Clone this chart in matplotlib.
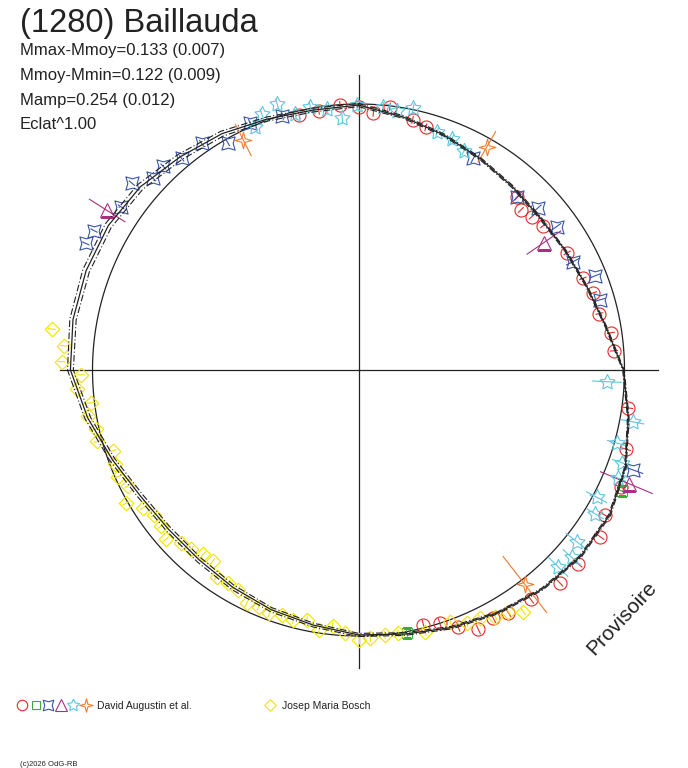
import numpy as np
import matplotlib
matplotlib.use("Agg")
import matplotlib.pyplot as plt
from matplotlib.path import Path
from matplotlib.transforms import Affine2D
from matplotlib.lines import Line2D

# rotational phase in degrees (0 at top, clockwise), relative flux (reference circle = 1)
curve_phase = list(range(0, 360, 10))
curve_flux = [0.996, 0.966, 0.940, 0.917, 0.900, 0.891, 0.898, 0.914, 0.944, 0.996,
              1.030, 1.068, 1.090, 1.090, 1.075, 1.053, 1.030, 1.008, 0.996, 0.974,
              0.959, 0.944, 0.932, 0.932, 0.947, 0.985, 1.034, 1.083, 1.090, 1.090,
              1.086, 1.071, 1.045, 1.026, 1.004, 0.992]
curve_sigma = [0.006, 0.005, 0.004, 0.004, 0.004, 0.004, 0.003, 0.003, 0.003, 0.003,
               0.003, 0.003, 0.004, 0.004, 0.004, 0.004, 0.005, 0.005, 0.006, 0.007,
               0.008, 0.009, 0.010, 0.010, 0.010, 0.010, 0.011, 0.011, 0.012, 0.013,
               0.013, 0.013, 0.012, 0.010, 0.008, 0.007]

red_phase = [346.9, 351.3, 356.0, 0.0, 3.3, 6.8, 12.2, 15.5, 42.6, 45.4, 48.5, 52.0,
             60.7, 67.8, 71.8, 76.8, 81.6, 85.7, 98.0, 106.5, 114.1, 120.5, 124.6,
             131.4, 136.6, 143.1, 148.3, 151.5, 155.2, 158.8, 162.2, 165.7]
red_flux = [0.984, 0.986, 0.999, 0.988, 0.969, 0.997, 0.962, 0.947, 0.882, 0.857, 0.870,
            0.882, 0.900, 0.911, 0.929, 0.930, 0.959, 0.963, 1.022, 1.048, 1.080, 1.075,
            1.103, 1.102, 1.100, 1.078, 1.072, 1.062, 1.074, 1.035, 1.000, 0.989]
red_err = [0.015] * 18 + [0.02] * 14

green_phase = [114.7, 169.6]
green_flux = [1.089, 1.004]
green_err = [0.015, 0.015]

blue_phase = [297.8, 294.9, 304.5, 309.5, 313.0, 316.2, 320.1, 325.3, 330.1, 336.3,
              343.3, 28.5, 42.5, 47.9, 54.1, 63.2, 68.3, 73.8, 110.0]
blue_flux = [1.124, 1.130, 1.083, 1.104, 1.056, 1.060, 1.037, 1.036, 0.986, 1.015,
             0.997, 0.905, 0.880, 0.907, 0.919, 0.904, 0.957, 0.945, 1.099]
blue_err = [0.015] * 11 + [0.02, 0.02, 0.02, 0.022, 0.03, 0.022, 0.022, 0.04]

purple_phase = [302.4, 55.5, 112.8]
purple_flux = [1.121, 0.846, 1.105]
purple_err = [0.083, 0.079, 0.12]

cyan_phase = [337.0, 339.3, 343.0, 346.1, 349.6, 353.2, 356.3, 359.7, 5.3, 8.4, 11.8,
              18.3, 22.0, 25.7, 92.7, 100.7, 105.8, 109.4, 112.6, 118.1, 121.3, 128.2,
              131.3, 134.6]
cyan_flux = [0.994, 1.029, 1.046, 0.992, 1.006, 0.987, 0.948, 0.996, 0.992, 0.985, 1.005,
             0.944, 0.935, 0.915, 0.934, 1.049, 1.009, 1.049, 1.058, 1.015, 1.041, 1.044,
             1.067, 1.054]
cyan_err = [0.02] * 14 + [0.056, 0.045, 0.038, 0.038, 0.03, 0.045, 0.038, 0.053, 0.045, 0.053]

orange_phase = [29.9, 333.4, 142.2]
orange_flux = [0.968, 0.967, 1.020]
orange_err = [0.068, 0.068, 0.135]

yellow_phase = [277.6, 274.7, 271.6, 269.0, 266.1, 263.0, 260.3, 257.3, 254.7, 251.8,
                248.9, 246.1, 243.3, 240.2, 237.4, 234.7, 231.7, 228.7, 225.8, 223.1,
                220.1, 217.3, 214.5, 211.4, 208.7, 205.6, 202.9, 200.1, 197.3, 194.6,
                191.7, 188.6, 185.8, 182.9, 180.0, 177.5, 174.3, 171.4, 165.7, 160.0,
                156.9, 153.9, 151.0, 148.2, 145.7]
yellow_flux = [1.163, 1.111, 1.116, 1.044, 1.060, 1.014, 1.030, 1.012, 1.018, 0.973,
               0.981, 0.990, 0.969, 1.008, 0.960, 0.942, 0.947, 0.964, 0.932, 0.923,
               0.905, 0.905, 0.942, 0.939, 0.942, 0.973, 0.966, 0.974, 0.965, 0.971,
               0.960, 0.988, 0.967, 0.991, 1.015, 1.009, 1.001, 1.001, 1.015, 1.007,
               1.035, 1.039, 1.060, 1.069, 1.100]
yellow_err = [0.015] * 45

observers = ["David Augustin et al.", "Josep Maria Bosch"]
stats = ["Mmax-Mmoy=0.133 (0.007)", "Mmoy-Mmin=0.122 (0.009)",
         "Mamp=0.254 (0.012)", "Eclat^1.00"]

W, H = 688, 768
fig = plt.figure(figsize=(W / 100, H / 100), dpi=100, facecolor="white")
plt.rcParams["font.family"] = ["Liberation Sans", "DejaVu Sans"]

cx, cy, scale, rmax = 358.5, 398, 266.0, 1.2
rad = scale * rmax
ax = fig.add_axes([(cx - rad) / W, (cy - rad) / H, 2 * rad / W, 2 * rad / H],
                  projection="polar")
ax.set_theta_zero_location("N")
ax.set_theta_direction(-1)
ax.set_rlim(0, rmax)
ax.axis("off")

ink = "#222222"
# cross
ax.plot([0, 0], [0, 1.109], color=ink, lw=0.9)
ax.plot([np.pi, np.pi], [0, 1.12], color=ink, lw=0.9)
ax.plot([np.pi / 2, np.pi / 2], [0, 1.126], color=ink, lw=0.9)
ax.plot([1.5 * np.pi, 1.5 * np.pi], [0, 1.122], color=ink, lw=0.9)
# reference circle
tc = np.linspace(0, 2 * np.pi, 721)
ax.plot(tc, np.ones_like(tc), color=ink, lw=0.9)

# fitted curve with +/- sigma
th = np.deg2rad(np.append(curve_phase, 360))
fl = np.append(curve_flux, curve_flux[0])
sg = np.append(curve_sigma, curve_sigma[0])
ax.plot(th, fl, color=ink, lw=0.9, zorder=3)
ax.plot(th, fl + sg, color=ink, lw=0.8, ls=(0, (6, 2, 1, 2)), zorder=3)
ax.plot(th, fl - sg, color=ink, lw=0.8, ls=(0, (6, 2, 1, 2)), zorder=3)

star4_diag = Path.unit_regular_star(4, 0.5).transformed(Affine2D().rotate_deg(45))
star4 = Path.unit_regular_star(4, 0.3)

series = [
    (red_phase, red_flux, red_err, "#e52a2a", "o", 9.4),
    (green_phase, green_flux, green_err, "#3caa3c", "s", 6.5),
    (blue_phase, blue_flux, blue_err, "#3a55a6", star4_diag, 9.5),
    (purple_phase, purple_flux, purple_err, "#a8307e", "^", 10),
    (cyan_phase, cyan_flux, cyan_err, "#5ec6de", (5, 1, 0), 11.5),
    (orange_phase, orange_flux, orange_err, "#f07c30", star4, 12),
    (yellow_phase, yellow_flux, yellow_err, "#f2e400", (4, 0, 0), 10.5),
]
for ph, fx, er, col, mk, ms in series:
    t = np.deg2rad(ph)
    f = np.array(fx)
    e = np.array(er)
    ax.vlines(t, f - e, f + e, colors=col, lw=0.8, zorder=2)
    ax.plot(t, f, ls="none", marker=mk, ms=ms, mfc="none", mec=col, mew=0.8, zorder=2)

# texts
def px(x, y):
    return x / W, 1 - y / H

fig.text(*px(20, 32), "(1280) Baillauda", fontsize=23.5, color=ink, va="baseline")
for i, s in enumerate(stats):
    fig.text(*px(20, 55.5 + 24.6 * i), s, fontsize=12, color=ink, va="baseline")
fig.text(*px(622, 618), "Provisoire", fontsize=15, color=ink, rotation=47,
         ha="center", va="center")

# legend
leg_y = 705
for xk, (_, _, _, col, mk, ms) in zip([22, 36, 48, 61, 73, 86], series[:6]):
    fig.add_artist(Line2D([xk / W], [1 - leg_y / H], transform=fig.transFigure,
                          ls="none", marker=mk, ms=ms * 0.8, mfc="none", mec=col, mew=0.8))
fig.text(*px(97, 709), observers[0], fontsize=7.5, color=ink, va="baseline")
yc = series[6]
fig.add_artist(Line2D([270 / W], [1 - leg_y / H], transform=fig.transFigure,
                      ls="none", marker=yc[4], ms=yc[5] * 0.8, mfc="none", mec=yc[3], mew=0.8))
fig.text(*px(282, 709), observers[1], fontsize=7.5, color=ink, va="baseline")
fig.text(*px(20, 766), "(c)2026 OdG-RB", fontsize=5.5, color=ink, va="baseline")

fig.savefig("out.png", dpi=100, facecolor="white")
